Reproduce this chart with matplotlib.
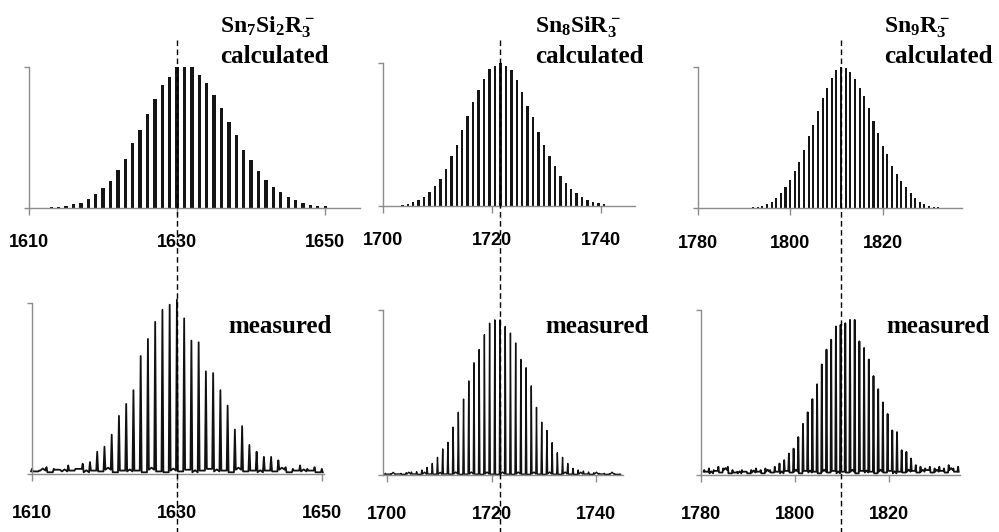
import numpy as np
import matplotlib
matplotlib.use("Agg")
import matplotlib.pyplot as plt
from matplotlib import transforms
from matplotlib.lines import Line2D

W, H = 999, 532

# calculated isotope patterns, one bar per mass unit (first mass + intensities)
calc_sn7si2_start = 1612
calc_sn7si2 = [0.002, 0.005, 0.007, 0.014, 0.026, 0.038, 0.066, 0.096, 0.145, 0.195,
               0.27, 0.35, 0.46, 0.555, 0.67, 0.77, 0.87, 0.93, 1.0, 1.0,
               1.0, 0.94, 0.89, 0.80, 0.71, 0.61, 0.52, 0.41, 0.34, 0.26,
               0.20, 0.146, 0.11, 0.078, 0.054, 0.035, 0.024, 0.016, 0.012]

calc_sn8si_start = 1703.6
calc_sn8si = [0.007, 0.014, 0.026, 0.042, 0.065, 0.10, 0.14, 0.19, 0.26, 0.35,
              0.43, 0.53, 0.63, 0.73, 0.81, 0.89, 0.96, 0.98, 1.0, 0.98,
              0.95, 0.88, 0.80, 0.70, 0.62, 0.52, 0.43, 0.35, 0.28, 0.21,
              0.16, 0.12, 0.09, 0.06, 0.042, 0.028, 0.019, 0.012]

calc_sn9_start = 1791
calc_sn9 = [0.004, 0.007, 0.012, 0.019, 0.03, 0.047, 0.07, 0.11, 0.15, 0.20,
            0.26, 0.33, 0.41, 0.51, 0.59, 0.69, 0.78, 0.85, 0.92, 0.98,
            1.0, 0.99, 0.96, 0.91, 0.85, 0.79, 0.71, 0.62, 0.53, 0.44,
            0.38, 0.30, 0.24, 0.19, 0.15, 0.11, 0.07, 0.047, 0.03, 0.019,
            0.012, 0.007]

# measured spectra: peak tops at each mass, and the noise level between peaks
meas_sn7si2_start = 1610
meas_sn7si2_peaks = [0.03, 0.02, 0.04, 0.03, 0.02, 0.05, 0.03, 0.06, 0.07, 0.13,
                     0.16, 0.23, 0.34, 0.41, 0.49, 0.69, 0.79, 0.89, 0.96, 0.99,
                     1.02, 0.91, 0.78, 0.77, 0.60, 0.59, 0.49, 0.40, 0.26, 0.28,
                     0.17, 0.13, 0.10, 0.10, 0.08, 0.04, 0.03, 0.05, 0.03, 0.04, 0.03]
meas_sn7si2_noise = [0.015, 0.02, 0.01, 0.025, 0.015, 0.02, 0.03, 0.01, 0.02, 0.015,
                     0.025, 0.01, 0.02, 0.015, 0.02, 0.01, 0.025, 0.015, 0.01, 0.02,
                     0.015, 0.025, 0.01, 0.02, 0.03, 0.015, 0.02, 0.01, 0.025, 0.015,
                     0.02, 0.01, 0.02, 0.015, 0.025, 0.01, 0.02, 0.015, 0.02, 0.01]

meas_sn8si_start = 1699.6
meas_sn8si_peaks = [0.01, 0.008, 0.006, 0.01, 0.014, 0.018, 0.02, 0.03, 0.046, 0.07,
                    0.107, 0.158, 0.198, 0.29, 0.38, 0.46, 0.57, 0.68, 0.76, 0.85,
                    0.92, 0.94, 0.94, 0.90, 0.86, 0.80, 0.70, 0.65, 0.54, 0.41,
                    0.32, 0.27, 0.196, 0.135, 0.107, 0.07, 0.04, 0.03, 0.024, 0.018,
                    0.014, 0.01, 0.01, 0.008, 0.008, 0.006]
meas_sn8si_noise = [0.005, 0.004, 0.006, 0.004, 0.005, 0.006, 0.004, 0.005, 0.006, 0.005,
                    0.004, 0.006, 0.005, 0.006, 0.004, 0.005, 0.006, 0.005, 0.004, 0.006,
                    0.005, 0.004, 0.006, 0.005, 0.004, 0.006, 0.005, 0.004, 0.006, 0.005,
                    0.004, 0.006, 0.005, 0.004, 0.006, 0.005, 0.004, 0.005, 0.006, 0.004,
                    0.005, 0.006, 0.004, 0.005, 0.004]

meas_sn9_start = 1780.7
meas_sn9_peaks = [0.03, 0.04, 0.03, 0.05, 0.04, 0.05, 0.03, 0.02, 0.03, 0.02,
                  0.03, 0.04, 0.03, 0.04, 0.03, 0.05, 0.07, 0.09, 0.13, 0.16,
                  0.23, 0.31, 0.38, 0.46, 0.55, 0.67, 0.76, 0.82, 0.90, 0.91,
                  0.92, 0.94, 0.94, 0.81, 0.77, 0.70, 0.60, 0.52, 0.44, 0.37,
                  0.27, 0.26, 0.15, 0.14, 0.10, 0.06, 0.05, 0.04, 0.05, 0.04,
                  0.05, 0.04, 0.06, 0.04, 0.05]
meas_sn9_noise = [0.02, 0.01, 0.025, 0.015, 0.03, 0.01, 0.015, 0.01, 0.02, 0.01,
                  0.015, 0.02, 0.01, 0.02, 0.015, 0.02, 0.01, 0.025, 0.015, 0.02,
                  0.01, 0.025, 0.015, 0.02, 0.01, 0.02, 0.015, 0.025, 0.01, 0.02,
                  0.015, 0.02, 0.01, 0.025, 0.015, 0.02, 0.01, 0.02, 0.015, 0.025,
                  0.01, 0.02, 0.015, 0.02, 0.025, 0.015, 0.02, 0.03, 0.015, 0.02,
                  0.025, 0.015, 0.03, 0.02]

formulas = [r"$\mathrm{Sn_7Si_2R_3^-}$", r"$\mathrm{Sn_8SiR_3^-}$", r"$\mathrm{Sn_9R_3^-}$"]
x_ticks = [[1610, 1630, 1650], [1700, 1720, 1740], [1780, 1800, 1820]]
centre_mass = [1630, 1721.6, 1811]

AXIS_GREY = "#8c8c8c"


def add_panel(fig, left, right, base, top, xlim, ticks, pad):
    """Axes placed by pixel box: y=0 at base, y=1 at top"""
    ax = fig.add_axes([left / W, 1 - base / H, (right - left) / W, (base - top) / H])
    ax.set_xlim(*xlim)
    ax.set_ylim(0, 1)
    for side in ["top", "right"]:
        ax.spines[side].set_visible(False)
    for side in ["left", "bottom"]:
        ax.spines[side].set_color(AXIS_GREY)
        ax.spines[side].set_linewidth(1.0)
    ax.set_xticks(ticks)
    ax.set_xticklabels([str(t) for t in ticks], fontsize=13, fontweight="bold",
                       family="Liberation Sans")
    ax.set_yticks([0, 1])
    ax.set_yticklabels([])
    ax.tick_params(axis="x", direction="out", length=5, width=1, color=AXIS_GREY, pad=pad)
    ax.tick_params(axis="y", direction="out", length=3.5, width=1, color=AXIS_GREY)
    ax.patch.set_visible(False)
    return ax


def draw_bars(ax, start, values):
    masses = start + np.arange(len(values))
    ax.bar(masses, values, width=0.45, color="#151515", linewidth=0, clip_on=False)


def draw_trace(ax, start, peaks, noise, lw):
    """Measured spectrum as a line: a narrow spike at each mass, noise between"""
    xs, ys = [], []
    for i, h in enumerate(peaks):
        m = start + i
        lo_left = noise[i - 1] if i > 0 else noise[0]
        lo_right = noise[i] if i < len(noise) else noise[-1]
        xs += [m - 0.13, m, m + 0.13]
        ys += [lo_left, h, lo_right]
        if i < len(noise):
            xs.append(m + 0.5)
            ys.append(noise[i] + 0.012 * (i % 3 == 1))
    ax.plot(xs, ys, color="#111111", lw=lw, clip_on=False)


def main():
    plt.rcParams["mathtext.fontset"] = "custom"
    plt.rcParams["mathtext.rm"] = "Liberation Serif:bold"
    plt.rcParams["mathtext.it"] = "Liberation Serif:bold"
    plt.rcParams["mathtext.bf"] = "Liberation Serif:bold"

    fig = plt.figure(figsize=(W / 100, H / 100), dpi=100)
    fig.patch.set_facecolor("white")

    # calculated row
    top_axes = [
        add_panel(fig, 29, 360, 208, 67, (1610, 1654.7), x_ticks[0], 14),
        add_panel(fig, 382.7, 635, 206, 63, (1700, 1746.3), x_ticks[1], 14),
        add_panel(fig, 697.5, 961.5, 208.3, 66.7, (1780, 1837), x_ticks[2], 14),
    ]
    draw_bars(top_axes[0], calc_sn7si2_start, calc_sn7si2)
    draw_bars(top_axes[1], calc_sn8si_start, calc_sn8si)
    draw_bars(top_axes[2], calc_sn9_start, calc_sn9)

    # measured row
    bottom_axes = [
        add_panel(fig, 32, 324, 474, 303, (1610, 1650.3), x_ticks[0], 17),
        add_panel(fig, 383.3, 623, 475, 310, (1699.2, 1745.2), x_ticks[1], 17),
        add_panel(fig, 701, 959.5, 475, 310, (1780, 1835), x_ticks[2], 17),
    ]
    draw_trace(bottom_axes[0], meas_sn7si2_start, meas_sn7si2_peaks, meas_sn7si2_noise, 1.3)
    draw_trace(bottom_axes[1], meas_sn8si_start, meas_sn8si_peaks, meas_sn8si_noise, 1.0)
    draw_trace(bottom_axes[2], meas_sn9_start, meas_sn9_peaks, meas_sn9_noise, 1.3)

    # labels
    label_x = [220, 535, 884]
    meas_x = [228, 545, 886]
    for i in range(3):
        fig.text(label_x[i] / W, 1 - 33 / H, formulas[i], fontsize=17, ha="left", va="baseline")
        fig.text(label_x[i] / W, 1 - 63 / H, "calculated", fontsize=18, fontweight="bold",
                 family="Liberation Serif", ha="left", va="baseline")
        fig.text(meas_x[i] / W, 1 - 333 / H, "measured", fontsize=18, fontweight="bold",
                 family="Liberation Serif", ha="left", va="baseline")

    # dashed guide through both rows at the main peak
    for ax, m in zip(top_axes, centre_mass):
        trans = transforms.blended_transform_factory(ax.transData, fig.transFigure)
        fig.add_artist(Line2D([m, m], [1 - 40 / H, 0], transform=trans, color="black",
                              lw=1.0, dashes=(4, 2.5), zorder=10))

    fig.savefig("out.png", dpi=100, facecolor="white")


if __name__ == "__main__":
    main()
